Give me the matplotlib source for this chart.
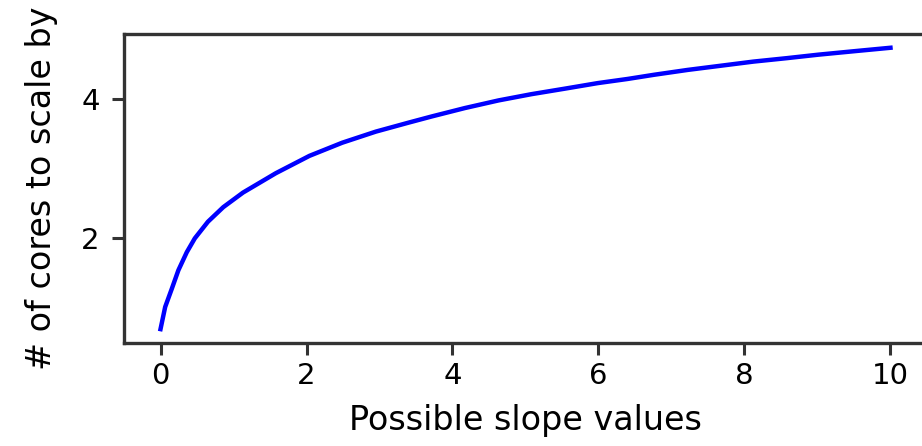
import matplotlib
matplotlib.use("Agg")
import matplotlib.pyplot as plt

# values
slope = [0.0, 0.064, 0.154, 0.245, 0.36, 0.47, 0.65, 0.86, 1.13, 1.58,
         2.04, 2.49, 2.95, 3.40, 3.72, 4.17, 4.63, 5.08, 5.54, 5.99, 6.40,
         6.76, 7.22, 7.67, 8.12, 8.58, 9.01, 9.50, 10.0]
cores = [0.68, 1.00, 1.26, 1.53, 1.79, 1.99, 2.23, 2.44, 2.65, 2.93,
         3.18, 3.37, 3.53, 3.66, 3.75, 3.87, 3.98, 4.07, 4.15, 4.23, 4.29,
         4.35, 4.42, 4.48, 4.54, 4.59, 4.64, 4.69, 4.74]
xticks = [0, 2, 4, 6, 8, 10]
yticks = [2, 4]

fig = plt.figure(figsize=(9.22, 4.46), dpi=100)
ax = fig.add_axes([0.1345, 0.231, 0.8709, 0.693])

ax.plot(slope, cores, color="blue", lw=3.2)
ax.set_xticks(xticks)
ax.set_yticks(yticks)
ax.set_xlim(-0.5, 10.5)
ax.set_ylim(0.48, 4.94)

for s in ax.spines.values():
    s.set_linewidth(2.4)
    s.set_color("#333333")
ax.tick_params(labelsize=21, length=8.5, width=2.2, color="#333333")
ax.tick_params(axis="x", pad=5)
ax.tick_params(axis="y", pad=9)

ax.set_xlabel("Possible slope values", fontsize=24, labelpad=10)
ax.set_ylabel("# of cores to scale by", fontsize=24, labelpad=17)

fig.savefig("out.png", dpi=100)
